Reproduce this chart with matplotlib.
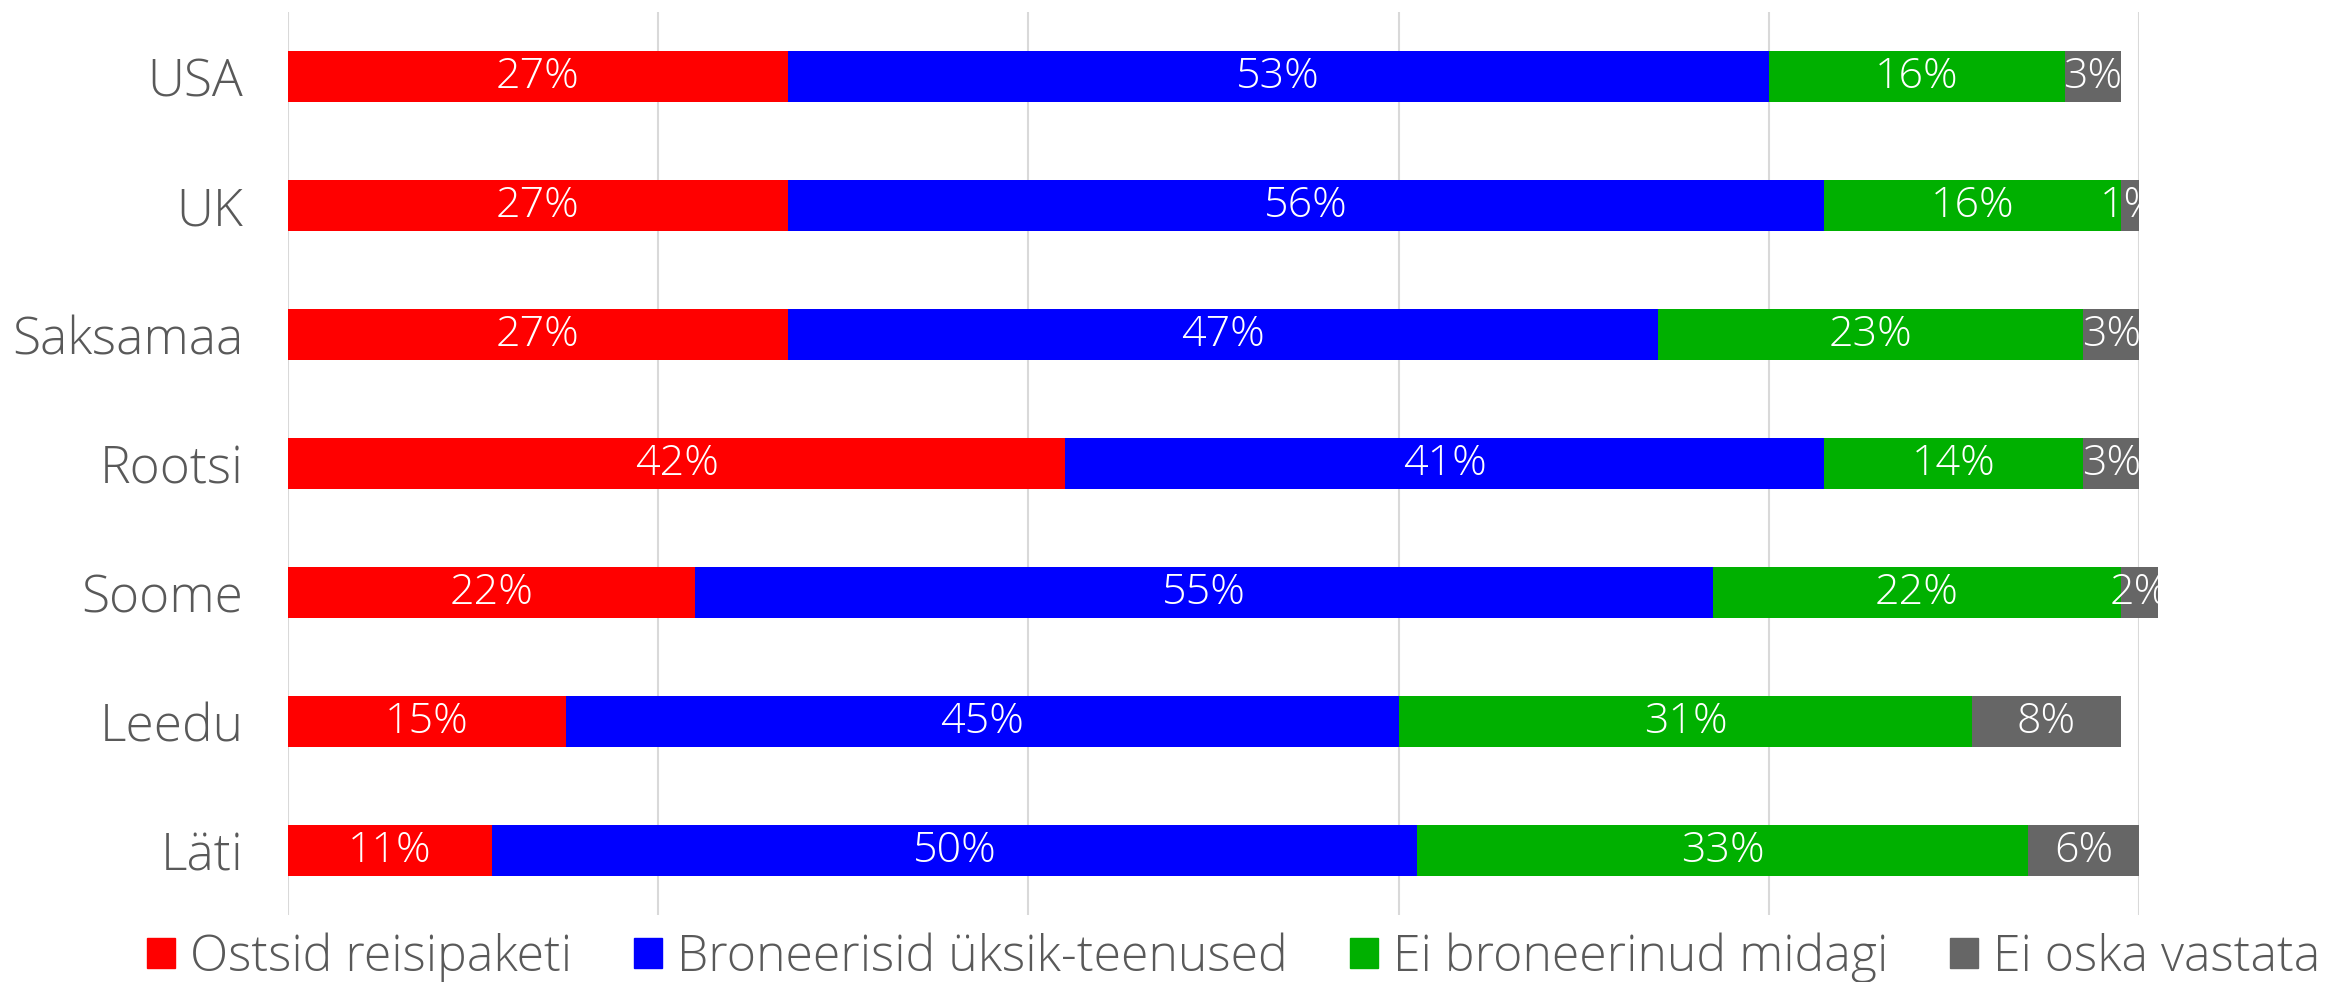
import matplotlib
matplotlib.use("Agg")
import matplotlib.pyplot as plt
from matplotlib.patches import Patch

# data (percent)
countries = ["USA", "UK", "Saksamaa", "Rootsi", "Soome", "Leedu", "Läti"]
series_names = ["Ostsid reisipaketi", "Broneerisid üksik-teenused",
                "Ei broneerinud midagi", "Ei oska vastata"]
package = [27, 27, 27, 42, 22, 15, 11]
single = [53, 56, 47, 41, 55, 45, 50]
nothing = [16, 16, 23, 14, 22, 31, 33]
dont_know = [3, 1, 3, 3, 2, 8, 6]
colors = ["#FF0000", "#0000FF", "#00B000", "#666666"]

plt.rcParams["font.family"] = ["Open Sans", "DejaVu Sans"]
plt.rcParams["font.weight"] = 300

fig = plt.figure(figsize=(23.39, 9.82), dpi=100)
ax = fig.add_axes([0.1231, 0.068, 0.7914, 0.92])

ypos = list(range(len(countries)))
left = [0] * len(countries)
for name, vals, col in zip(series_names, [package, single, nothing, dont_know], colors):
    bars = ax.barh(ypos, vals, left=left, height=0.395, color=col, label=name,
                   clip_on=False, zorder=3)
    for b, v in zip(bars, vals):
        ax.text(b.get_x() + b.get_width() / 2, b.get_y() + b.get_height() / 2,
                f"{v}%", ha="center", va="center", color="white", fontsize=31,
                zorder=4)
    left = [l + v for l, v in zip(left, vals)]

ax.set_xlim(0, 100)
ax.set_ylim(len(countries) - 0.5, -0.5)
ax.set_xticks([0, 20, 40, 60, 80, 100])
ax.set_xticklabels([])
ax.set_yticks(ypos)
ax.set_yticklabels(countries, fontsize=37, color="#595959")
ax.tick_params(axis="both", length=0)
ax.tick_params(axis="y", pad=32)
ax.grid(axis="x", color="#D9D9D9", linewidth=1.5, zorder=0)
for s in ax.spines.values():
    s.set_visible(False)

handles = [Patch(color=c) for c in colors]
fig.legend(handles, series_names, loc="center", bbox_to_anchor=(0.5275, 0.025),
           ncol=4, frameon=False, fontsize=36, labelcolor="#595959",
           handlelength=0.55, handleheight=0.55, handletextpad=0.3,
           columnspacing=1.25)

plt.savefig("out.png", dpi=100)
